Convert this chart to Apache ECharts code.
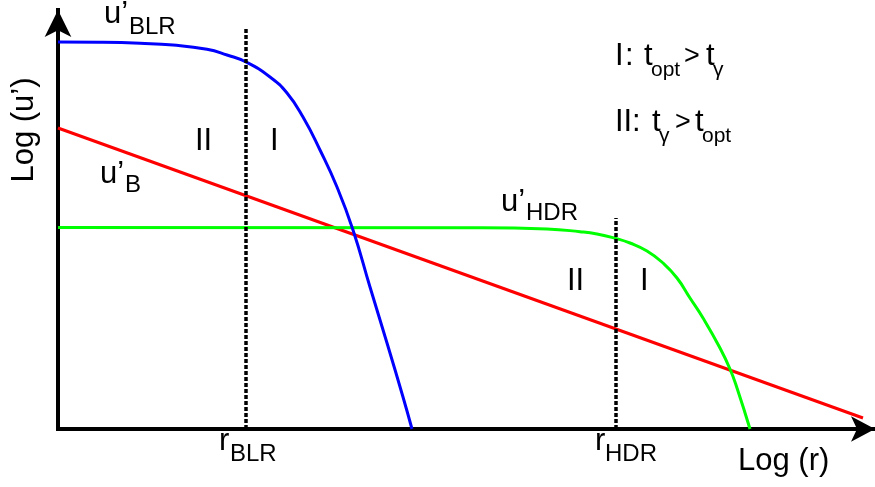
<!DOCTYPE html>
<html><head><meta charset="utf-8">
<script src="https://cdn.jsdelivr.net/npm/echarts@6/dist/echarts.min.js"></script>
<style>html,body{margin:0;padding:0;background:#fff}#c{width:875px;height:487px}</style>
</head><body><div id="c"></div>
<script>
// x: Log(r), y: Log(u') in arbitrary schematic units
const blrX = [0, 42, 82, 115, 149, 169, 188, 212, 229, 245, 262, 279, 295, 312, 329, 345, 354];
const blrY = [387, 386.7, 385.7, 384, 379.7, 374, 367, 352, 336, 312, 279, 242, 199, 142, 86, 32, 0];
const hdrX = [0, 422, 489, 522, 539, 558, 572, 589, 605, 619, 632, 645, 662, 672, 679, 692];
const hdrY = [201.5, 201.3, 200, 197.3, 195, 190.5, 186, 178, 166, 151, 131, 111, 81, 60, 41, 0];
const bX = [0, 805];
const bY = [301, 11];
const rBLR = [188, 402];   // position, top of marker
const rHDR = [558, 211];
const xRange = [0, 817];
const yRange = [0, 419];

const zip = (xs, ys) => xs.map((x, i) => [x, ys[i]]);

const FONT = '"Liberation Sans", Arial, sans-serif';
function T(x, base, s, size, extra) {
  return Object.assign({
    type: 'text', x: x, y: base - 0.34 * size, z: 100,
    style: { text: s, font: size + 'px ' + FONT, fill: '#000', textAlign: 'left', textVerticalAlign: 'middle' }
  }, extra || {});
}
const M = 31, S = 24, S2 = 21, G = 27;
const texts = [
  T(104, 25, 'u’', M), T(129, 36, 'BLR', S),
  T(100, 185, 'u’', M), T(125, 194, 'B', S),
  T(501, 213, 'u’', M), T(526, 222, 'HDR', S),
  T(219, 452, 'r', M), T(230, 463, 'BLR', S),
  T(595, 452, 'r', M), T(605, 463, 'HDR', S),
  T(738, 472, 'Log (r)', M),
  T(195, 152, 'II', M), T(270, 152, 'I', M),
  T(567, 292, 'II', M), T(640, 292, 'I', M),
  T(615, 67, 'I', M), T(625, 67, ':', M), T(644, 67, 't', M), T(651, 77, 'opt', S2), T(684, 66, '>', G), T(706, 67, 't', M), T(713, 77, 'γ', S2),
  T(615, 133, 'II', M), T(632, 133, ':', M), T(652, 133, 't', M), T(659, 143, 'γ', S2), T(675, 132, '>', G), T(695, 133, 't', M), T(702, 143, 'opt', S2),
  { type: 'text', x: 24, y: 130, rotation: Math.PI / 2, z: 100,
    style: { text: 'Log (u’)', font: M + 'px ' + FONT, fill: '#000', textAlign: 'center', textVerticalAlign: 'middle' } }
];

const chart = echarts.init(document.getElementById('c'));
const axisCommon = {
  type: 'value', axisTick: { show: false }, axisLabel: { show: false }, splitLine: { show: false }
};
chart.setOption({
  animation: false,
  backgroundColor: '#fff',
  grid: { left: 58, right: 0, top: 10, bottom: 58 },
  xAxis: Object.assign({}, axisCommon, {
    min: xRange[0], max: xRange[1],
    axisLine: { show: true, symbol: ['none', 'arrow'], symbolSize: [19, 24], lineStyle: { color: '#000', width: 4 } }
  }),
  yAxis: Object.assign({}, axisCommon, {
    min: yRange[0], max: yRange[1],
    axisLine: { show: true, symbol: ['none', 'arrow'], symbolSize: [20, 27], lineStyle: { color: '#000', width: 4, cap: 'square' } }
  }),
  series: [
    { type: 'line', data: zip(bX, bY), showSymbol: false, z: 2, lineStyle: { color: '#ff0000', width: 3 } },
    { type: 'line', data: zip(hdrX, hdrY), smooth: 0.5, showSymbol: false, z: 3, lineStyle: { color: '#00ff00', width: 3 } },
    { type: 'line', data: zip(blrX, blrY), smooth: 0.5, showSymbol: false, z: 4, lineStyle: { color: '#0000ff', width: 3 } },
    { type: 'line', data: [[rBLR[0], 0], [rBLR[0], rBLR[1]]], showSymbol: false, z: 5, lineStyle: { color: '#000', width: 3.5, type: [4, 2] } },
    { type: 'line', data: [[rHDR[0], 0], [rHDR[0], rHDR[1]]], showSymbol: false, z: 5, lineStyle: { color: '#000', width: 3.5, type: [4, 2] } }
  ],
  graphic: texts
});
</script></body></html>
